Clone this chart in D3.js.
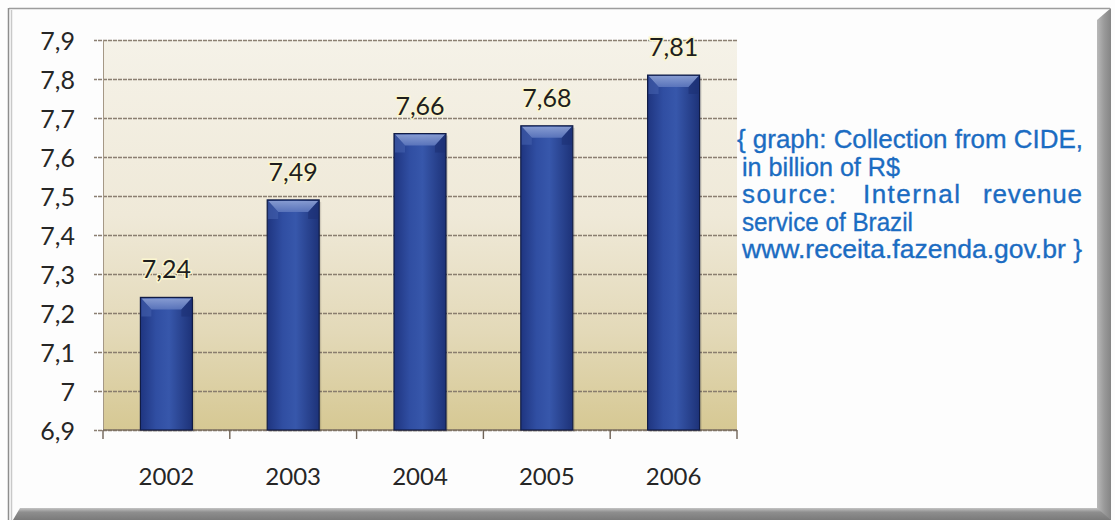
<!DOCTYPE html>
<html>
<head>
<meta charset="utf-8">
<script src="https://cdn.jsdelivr.net/npm/d3@7"></script>
<style>
  html, body { margin: 0; padding: 0; background: #ffffff; }
  svg { display: block; }
</style>
</head>
<body>
<svg id="chart" width="1115" height="520"></svg>
<script>
// CIDE collection, billions of R$
const years = ["2002", "2003", "2004", "2005", "2006"];
const collection = [7.24, 7.49, 7.66, 7.68, 7.81];
const yTicks = [6.9, 7.0, 7.1, 7.2, 7.3, 7.4, 7.5, 7.6, 7.7, 7.8, 7.9];
const noteLines = [
  "{ graph: Collection from CIDE,",
  "in billion of R$",
  "source: Internal revenue",
  "service of Brazil",
  "www.receita.fazenda.gov.br }"
];

const W = 1115, H = 520;
const plot = { left: 103, right: 737, top: 40, bottom: 430 };
const ptBR = d3.formatLocale({ decimal: ",", thousands: ".", grouping: [3], currency: ["R$", ""] });
const fmtTick = ptBR.format(".1~f");
const fmtVal = ptBR.format(".2f");

const svg = d3.select("#chart");
const defs = svg.append("defs");

// page background and frame
svg.append("rect").attr("width", W).attr("height", H).attr("fill", "#fdfdfd");

const plotGrad = defs.append("linearGradient").attr("id", "plotBg")
  .attr("x1", 0).attr("y1", 0).attr("x2", 0).attr("y2", 1);
plotGrad.append("stop").attr("offset", "0%").attr("stop-color", "#f5f2e8");
plotGrad.append("stop").attr("offset", "45%").attr("stop-color", "#efe9d8");
plotGrad.append("stop").attr("offset", "75%").attr("stop-color", "#e3d9b8");
plotGrad.append("stop").attr("offset", "100%").attr("stop-color", "#d6c893");

const barGrad = defs.append("linearGradient").attr("id", "barFill")
  .attr("x1", 0).attr("y1", 0).attr("x2", 1).attr("y2", 0);
barGrad.append("stop").attr("offset", "0%").attr("stop-color", "#1f3580");
barGrad.append("stop").attr("offset", "30%").attr("stop-color", "#304ea2");
barGrad.append("stop").attr("offset", "55%").attr("stop-color", "#3757ab");
barGrad.append("stop").attr("offset", "100%").attr("stop-color", "#1d3278");

const capGrad = defs.append("linearGradient").attr("id", "capFill")
  .attr("x1", 0).attr("y1", 0).attr("x2", 0).attr("y2", 1);
capGrad.append("stop").attr("offset", "0%").attr("stop-color", "#8fa3d6");
capGrad.append("stop").attr("offset", "100%").attr("stop-color", "#5d77bd");

const rightBevel = defs.append("linearGradient").attr("id", "rightBevel")
  .attr("x1", 0).attr("y1", 0).attr("x2", 1).attr("y2", 0);
rightBevel.append("stop").attr("offset", "0%").attr("stop-color", "#b9b9b9");
rightBevel.append("stop").attr("offset", "50%").attr("stop-color", "#9a9a9a");
rightBevel.append("stop").attr("offset", "100%").attr("stop-color", "#858585");

const bottomBevel = defs.append("linearGradient").attr("id", "bottomBevel")
  .attr("x1", 0).attr("y1", 0).attr("x2", 0).attr("y2", 1);
bottomBevel.append("stop").attr("offset", "0%").attr("stop-color", "#c4c4c4");
bottomBevel.append("stop").attr("offset", "35%").attr("stop-color", "#8e8e8e");
bottomBevel.append("stop").attr("offset", "100%").attr("stop-color", "#7a7a7a");

const frame = svg.append("g");
frame.append("line").attr("x1", 9).attr("x2", 1110).attr("y1", 8.5).attr("y2", 8.5)
  .attr("stroke", "#9c9c9c").attr("stroke-width", 1.5);
frame.append("line").attr("x1", 8.5).attr("x2", 8.5).attr("y1", 8).attr("y2", 520)
  .attr("stroke", "#8d8d8d").attr("stroke-width", 1.5);
frame.append("line").attr("x1", 11.5).attr("x2", 11.5).attr("y1", 10).attr("y2", 520)
  .attr("stroke", "#c9c9c9").attr("stroke-width", 1.5);
frame.append("polygon")
  .attr("points", "1097,20 1111,8 1111,520 1097,520")
  .attr("fill", "url(#rightBevel)");
frame.append("polygon")
  .attr("points", "13,520 20,508 1097,508 1111,520")
  .attr("fill", "url(#bottomBevel)");
frame.append("rect").attr("x", 1111).attr("y", 0).attr("width", 4).attr("height", H).attr("fill", "#fdfdfd");

// scales
const x = d3.scaleBand().domain(years).range([plot.left, plot.right]).paddingInner(0.59).paddingOuter(0.295);
const y = d3.scaleLinear().domain([6.9, 7.9]).range([plot.bottom, plot.top]);

// plot area
svg.append("rect")
  .attr("x", plot.left).attr("y", plot.top)
  .attr("width", plot.right - plot.left).attr("height", plot.bottom - plot.top)
  .attr("fill", "url(#plotBg)");

// gridlines with left tick stubs
const gy = svg.append("g").attr("transform", `translate(${plot.right},0)`);
gy.call(d3.axisLeft(y).tickValues(yTicks).tickFormat("").tickSize(plot.right - plot.left + 9));
gy.select(".domain").remove();
gy.selectAll(".tick line").attr("stroke", "#85786a").attr("stroke-width", 1.4)
  .attr("stroke-dasharray", "4,1").attr("opacity", 0.95);

// y tick labels
const gyl = svg.append("g").attr("transform", `translate(${plot.left},0)`);
gyl.call(d3.axisLeft(y).tickValues(yTicks).tickFormat(fmtTick).tickSize(0).tickPadding(28));
gyl.select(".domain").remove();
gyl.selectAll(".tick text")
  .attr("font-family", "Lato, 'Open Sans', sans-serif").attr("font-size", 25)
  .attr("fill", "#262626").attr("dy", "0.36em");

// left plot edge
svg.append("line").attr("x1", plot.left + 0.5).attr("x2", plot.left + 0.5)
  .attr("y1", plot.top).attr("y2", plot.bottom)
  .attr("stroke", "#a59886").attr("stroke-width", 1);

// x axis with boundary ticks between categories
const bandEdges = years.map(d => x(d) - x.step() * x.paddingInner() / 2)
  .concat([plot.right]);
const gx = svg.append("g");
gx.append("line").attr("x1", plot.left).attr("x2", plot.right)
  .attr("y1", plot.bottom).attr("y2", plot.bottom)
  .attr("stroke", "#7d7062").attr("stroke-width", 1.4);
gx.selectAll("line.tk").data(bandEdges).join("line").attr("class", "tk")
  .attr("x1", d => d).attr("x2", d => d)
  .attr("y1", plot.bottom).attr("y2", plot.bottom + 9)
  .attr("stroke", "#6f6357").attr("stroke-width", 1.4);
gx.selectAll("text").data(years).join("text")
  .attr("x", d => x(d) + x.bandwidth() / 2).attr("y", 485)
  .attr("text-anchor", "middle")
  .attr("font-family", "Lato, 'Open Sans', sans-serif").attr("font-size", 24)
  .attr("fill", "#262626")
  .text(d => d);

// bars
const bars = svg.append("g").selectAll("g").data(years.map((yr, i) => ({ yr, v: collection[i] })))
  .join("g");
bars.append("rect")
  .attr("x", d => x(d.yr) + 2).attr("y", d => y(d.v) + 2)
  .attr("width", x.bandwidth()).attr("height", d => y(6.9) - y(d.v))
  .attr("fill", "#000").attr("opacity", 0.12);
bars.append("rect")
  .attr("x", d => x(d.yr)).attr("y", d => y(d.v))
  .attr("width", x.bandwidth()).attr("height", d => y(6.9) - y(d.v))
  .attr("fill", "url(#barFill)")
  .attr("stroke", "#111c45").attr("stroke-width", 1.2);
// bevelled top face
bars.append("polygon")
  .attr("points", d => {
    const x0 = x(d.yr) + 1, x1 = x(d.yr) + x.bandwidth() - 1, t = y(d.v) + 1, b = t + 11;
    return `${x0},${t} ${x1},${t} ${x1 - 10},${b} ${x0 + 10},${b}`;
  })
  .attr("fill", "url(#capFill)").attr("opacity", 0.9);
bars.append("polygon")
  .attr("points", d => {
    const x0 = x(d.yr) + 1, t = y(d.v) + 1;
    return `${x0},${t} ${x0 + 10},${t + 11} ${x0 + 10},${t + 18} ${x0},${t + 18}`;
  })
  .attr("fill", "#4560ad").attr("opacity", 0.6);
bars.append("polygon")
  .attr("points", d => {
    const x1 = x(d.yr) + x.bandwidth() - 1, t = y(d.v) + 1;
    return `${x1},${t} ${x1 - 10},${t + 11} ${x1 - 10},${t + 18} ${x1},${t + 18}`;
  })
  .attr("fill", "#1d3175").attr("opacity", 0.6);

// value labels
bars.append("text")
  .attr("x", d => x(d.yr) + x.bandwidth() / 2).attr("y", d => y(d.v) - 19)
  .attr("text-anchor", "middle")
  .attr("font-family", "Lato, 'Open Sans', sans-serif").attr("font-size", 25)
  .attr("fill", "#1e1e1e")
  .attr("stroke", "#fbf6cf").attr("stroke-width", 3).attr("paint-order", "stroke")
  .text(d => fmtVal(d.v));

// source note
const note = svg.append("g")
  .attr("font-family", "'Liberation Sans', Arial, sans-serif").attr("font-size", 26)
  .attr("fill", "#1b6cc2").attr("stroke", "#1b6cc2").attr("stroke-width", 0.35);
const noteStart = [737, 742, null, 742, 742];
const noteBase = [148, 175.5, 203, 230.5, 258];
const noteWidths = [346, 158, null, 171, 340];
// justified third line: word start positions and widths across the column
const justifiedWords = [
  { x: 742, w: 94 },
  { x: 863, w: 97 },
  { x: 983, w: 99 }
];
noteLines.forEach((line, i) => {
  if (noteWidths[i] === null) {
    line.split(" ").forEach((word, k) => {
      note.append("text").attr("x", justifiedWords[k].x).attr("y", noteBase[i])
        .attr("textLength", justifiedWords[k].w).attr("lengthAdjust", "spacing")
        .text(word);
    });
  } else {
    note.append("text").attr("x", noteStart[i]).attr("y", noteBase[i])
      .attr("textLength", noteWidths[i]).attr("lengthAdjust", "spacingAndGlyphs")
      .text(line);
  }
});
</script>
</body>
</html>
